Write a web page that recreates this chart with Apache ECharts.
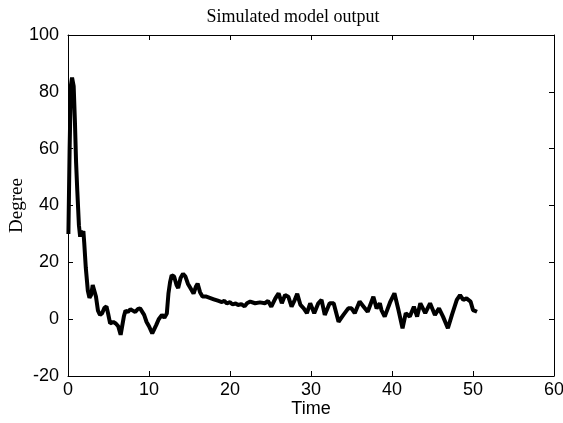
<!DOCTYPE html>
<html>
<head>
<meta charset="utf-8">
<script src="https://cdn.jsdelivr.net/npm/echarts@6/dist/echarts.min.js"></script>
<style>html,body{margin:0;padding:0;background:#fff;}#c{width:563px;height:423px;}</style>
</head>
<body>
<div id="c"></div>
<script>
const titleText = "Simulated model output";
const xName = "Time";
const yName = "Degree";
const xTicks = [0, 10, 20, 30, 40, 50, 60];
const yTicks = [-20, 0, 20, 40, 60, 80, 100];

const timeVals = [0.05,0.2,0.35,0.5,0.7,0.85,1.0,1.15,1.35,1.5,1.6,1.75,1.9,2.0,2.2,2.45,2.65,2.85,3.05,3.25,3.45,3.7,3.95,4.2,4.5,4.75,4.95,5.2,5.6,5.9,6.2,6.5,6.65,6.9,7.1,7.4,7.7,8.0,8.3,8.6,8.9,9.1,9.4,9.7,10.0,10.4,10.6,10.9,11.2,11.6,11.9,12.2,12.4,12.6,12.8,13.1,13.4,13.6,13.9,14.2,14.5,14.8,15.2,15.5,15.8,16.0,16.3,16.6,17.0,17.5,18.0,18.5,19.0,19.3,19.6,20.0,20.3,20.7,21.0,21.4,21.8,22.1,22.5,23.1,23.7,24.3,24.7,25.1,25.6,26.0,26.4,26.8,27.2,27.6,28.0,28.3,28.7,29.1,29.5,29.9,30.4,30.9,31.3,31.7,32.3,32.8,33.4,34.0,34.6,35.0,35.4,36.0,36.5,37.0,37.7,38.1,38.5,38.7,39.1,39.8,40.3,40.8,41.3,41.7,42.2,42.7,43.1,43.5,44.1,44.7,45.3,45.8,46.3,46.9,47.4,48.0,48.4,48.8,49.2,49.7,50.0,50.5];
const degreeVals = [30,60,82,85,82,70,55,45,33,29,31,30,31,27,18,10,7.5,8.5,12,12,8,3,1.5,2,4,4.5,2,-1.5,-1,-1.5,-2.5,-5.5,-5,1,3,2.5,3.5,3,2.5,3.5,3.8,4.2,1.5,-1,-2.5,-5,-4.5,-2,0,1.5,0.5,2,9,13,15.5,15,12,11,14.5,16,15,12.5,10.5,9,11.5,12.5,9.5,8,8,7.5,7,6.5,6,6.5,5.5,6,5.2,5.5,5,5.3,4.5,5.6,6.2,5.6,5.9,5.6,6.4,4.4,7.3,9.1,5.6,8.5,7.9,4.4,6.8,8.9,5.0,3.8,2.1,5.6,2.1,5.6,6.8,1.5,5.6,5.6,-0.9,1.5,3.8,3.8,2.1,6.2,4.4,2.6,7.9,3.8,5.6,3.2,0.9,6.2,9.1,3.2,-3.2,2.1,0.9,4.4,0.9,5.6,2.1,5.6,1.5,3.8,0.9,-3.2,1.5,6.8,8.5,6.8,7.3,6.2,3.2,2.6];

const seriesData = timeVals.map((t, i) => [t, degreeVals[i]]);

const chart = echarts.init(document.getElementById('c'), null, {renderer: 'canvas'});
const axisLine = {show: true, onZero: false, lineStyle: {color: '#000', width: 1}};
const tickIn = {show: true, inside: true, length: 5, lineStyle: {color: '#000', width: 1}};
const labelStyle = {color: '#000', fontFamily: 'Liberation Sans, Arial, sans-serif', fontSize: 18};
chart.setOption({
  animation: false,
  backgroundColor: '#fff',
  title: {
    text: titleText, left: 288, top: 3, textAlign: 'center',
    textStyle: {fontFamily: 'Liberation Serif, Times New Roman, serif', fontWeight: 'normal', fontSize: 18, color: '#000'}
  },
  grid: {left: 68, right: 9, top: 35, bottom: 47, containLabel: false, outerBoundsMode: 'none', show: false},
  xAxis: [{
    type: 'value', min: 0, max: 60, interval: 10, position: 'bottom',
    name: xName, nameLocation: 'middle', nameGap: 24, nameMoveOverlap: false,
    nameTextStyle: labelStyle,
    axisLine: axisLine, axisTick: tickIn, splitLine: {show: false},
    axisLabel: Object.assign({margin: 5}, labelStyle)
  }, {
    type: 'value', min: 0, max: 60, interval: 10, position: 'top',
    axisLine: axisLine, axisTick: tickIn, splitLine: {show: false}, axisLabel: {show: false}
  }],
  yAxis: [{
    type: 'value', min: -20, max: 100, interval: 20, position: 'left',
    name: yName, nameLocation: 'middle', nameGap: 41, nameRotate: 90, nameMoveOverlap: false,
    nameTextStyle: {color: '#000', fontFamily: 'Liberation Serif, Times New Roman, serif', fontSize: 19},
    axisLine: axisLine, axisTick: tickIn, splitLine: {show: false},
    axisLabel: Object.assign({margin: 9}, labelStyle)
  }, {
    type: 'value', min: -20, max: 100, interval: 20, position: 'right',
    axisLine: axisLine, axisTick: tickIn, splitLine: {show: false}, axisLabel: {show: false}
  }],
  series: [{
    type: 'line', data: seriesData, showSymbol: false, smooth: false,
    lineStyle: {color: '#000', width: 4}, itemStyle: {color: '#000'}
  }]
});
</script>
</body>
</html>
